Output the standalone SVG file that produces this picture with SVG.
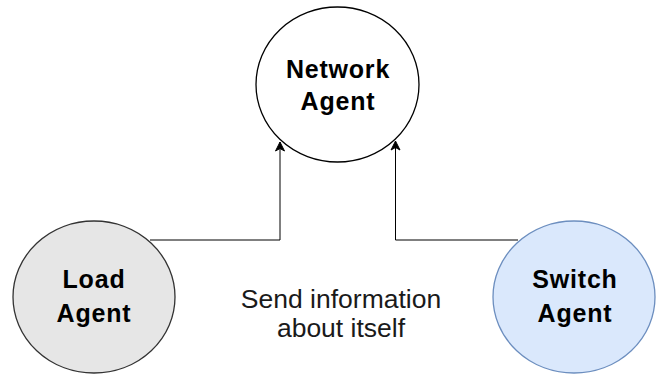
<svg xmlns="http://www.w3.org/2000/svg" width="656" height="376" viewBox="0 0 656 376">
  <style>
    .lbl { font-family: "Liberation Sans", Arial, sans-serif; font-size: 25px; font-weight: bold; letter-spacing: 0.8px; fill: #000; text-anchor: middle; }
    .txt { font-family: "Liberation Sans", Arial, sans-serif; font-size: 26.5px; fill: #1a1a1a; text-anchor: middle; }
    .edge { fill: none; stroke: #000; stroke-width: 1; }
  </style>
  <defs>
    <marker id="arrow" markerWidth="12" markerHeight="12" viewBox="0 0 12 12" refX="10" refY="6" orient="auto" markerUnits="userSpaceOnUse">
      <path d="M1,1.5 L10,6 L1,10.5 L3.5,6 Z" fill="#000" stroke="#000" stroke-width="1"/>
    </marker>
  </defs>
  <rect width="656" height="376" fill="#fff"/>
  <g id="connectors">
    <path class="edge" d="M150,240 H280 V142" marker-end="url(#arrow)"/>
    <path class="edge" d="M518,240 H395.5 V141" marker-end="url(#arrow)"/>
  </g>
  <g id="network-agent">
    <ellipse cx="337.5" cy="84.5" rx="81.5" ry="77.5" fill="#fff" stroke="#000" stroke-width="1.3"/>
    <text class="lbl" x="338" y="78">Network</text>
    <text class="lbl" x="338" y="110">Agent</text>
  </g>
  <g id="load-agent">
    <ellipse cx="94" cy="297" rx="81" ry="76" fill="#e6e6e6" stroke="#333" stroke-width="1.3"/>
    <text class="lbl" x="94" y="288">Load</text>
    <text class="lbl" x="94" y="322">Agent</text>
  </g>
  <g id="switch-agent">
    <ellipse cx="574" cy="297" rx="81" ry="76" fill="#dae8fc" stroke="#6c8ebf" stroke-width="1.3"/>
    <text class="lbl" x="575" y="288">Switch</text>
    <text class="lbl" x="575" y="322">Agent</text>
  </g>
  <g id="label">
    <text class="txt" x="341" y="308">Send information</text>
    <text class="txt" x="341" y="337">about itself</text>
  </g>
</svg>
